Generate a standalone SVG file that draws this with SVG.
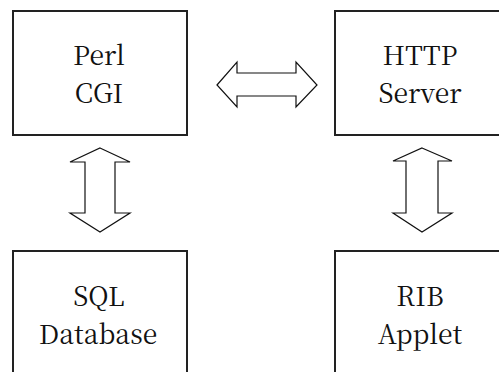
<svg xmlns="http://www.w3.org/2000/svg" width="499" height="372" viewBox="0 0 499 372">
<style>
.box{fill:#fff;stroke:#222;stroke-width:2}
.lbl{font-family:'Noto Serif CJK SC','Liberation Serif','Times New Roman',serif;font-size:26.5px;fill:#111;text-anchor:middle}
.arr{fill:#fff;stroke:#111;stroke-width:1.2;stroke-linejoin:miter}
</style>
<rect width="499" height="372" fill="#fff"/>
<g id="perl-cgi">
<rect class="box" x="13" y="11" width="174" height="124"/>
<text class="lbl" x="99" y="65">Perl</text>
<text class="lbl" x="99" y="103">CGI</text>
</g>
<g id="http-server">
<rect class="box" x="335" y="11" width="174" height="124"/>
<text class="lbl" x="420" y="65">HTTP</text>
<text class="lbl" x="420" y="103">Server</text>
</g>
<g id="sql-database">
<rect class="box" x="13" y="251" width="174" height="130"/>
<text class="lbl" x="99" y="306">SQL</text>
<text class="lbl" x="98" y="344">Database</text>
</g>
<g id="rib-applet">
<rect class="box" x="335" y="251" width="174" height="130"/>
<text class="lbl" x="420" y="306">RIB</text>
<text class="lbl" x="420" y="344">Applet</text>
</g>
<g id="connectors">
<polygon class="arr" points="217,85 237,62 237,73 296,73 296,62 317,85 296,107 296,96 237,96 237,107"/>
<polygon class="arr" points="100,148 130,162 115,162 115,213 130,213 100,232 70,213 85,213 85,162 70,162"/>
<polygon class="arr" points="422,148 452,161 438,161 438,213 452,213 422,232 393,213 406,213 406,161 393,161"/>
</g>
</svg>
